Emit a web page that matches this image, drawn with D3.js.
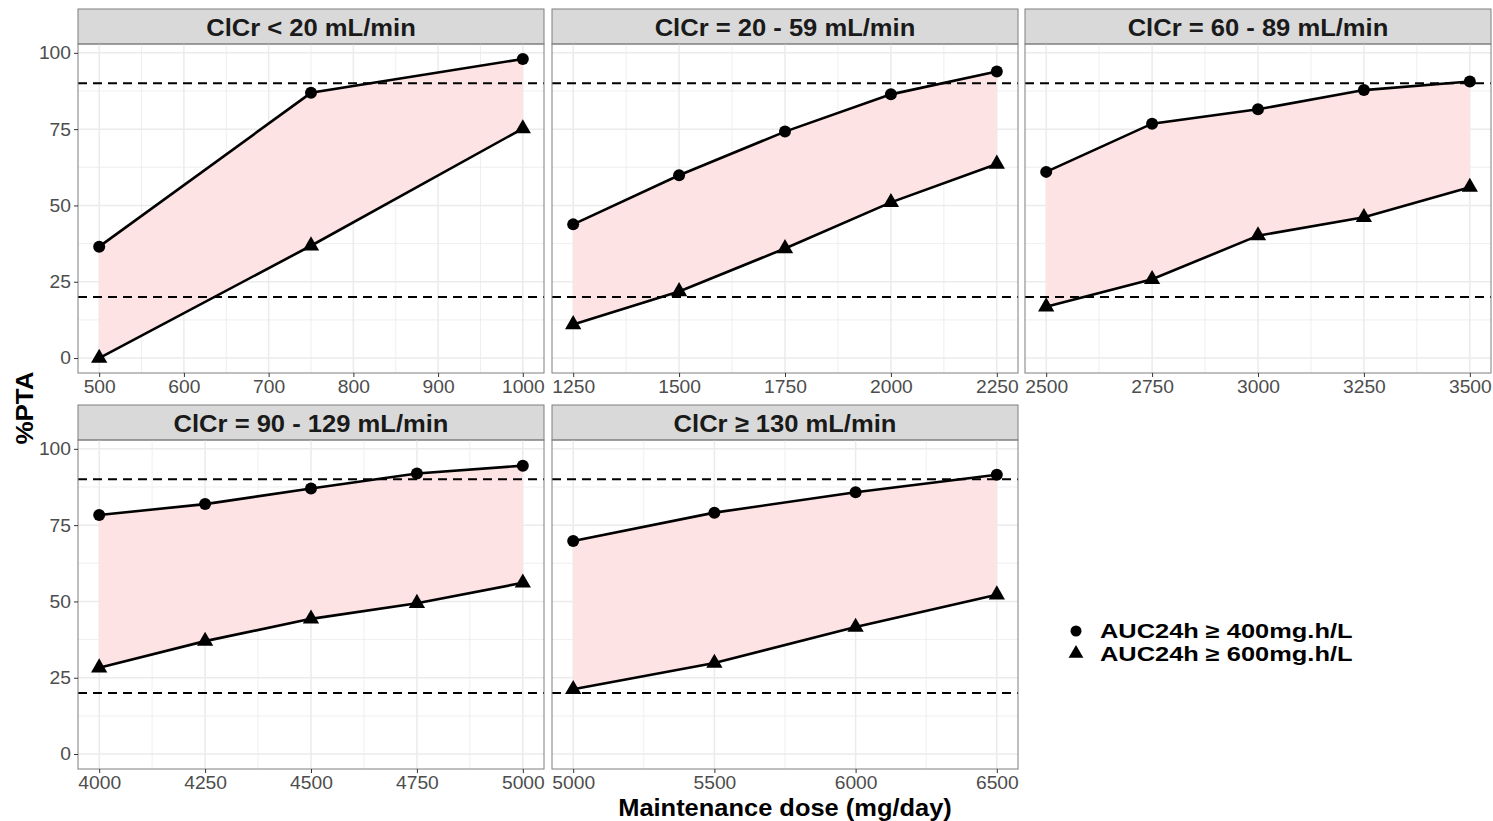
<!DOCTYPE html>
<html>
<head>
<meta charset="utf-8">
<script src="https://cdn.jsdelivr.net/npm/d3@7/dist/d3.min.js"></script>
<style>
  body { margin: 0; background: #fff; }
  svg { font-family: Arial, "Liberation Sans", Helvetica, sans-serif; }
</style>
</head>
<body>
<div id="chart"></div>
<script>
// panel data
const panelTitles = ["ClCr < 20 mL/min", "ClCr = 20 - 59 mL/min", "ClCr = 60 - 89 mL/min",
                     "ClCr = 90 - 129 mL/min", "ClCr \u2265 130 mL/min"];
const doses = [
  [500, 750, 1000],
  [1250, 1500, 1750, 2000, 2250],
  [2500, 2750, 3000, 3250, 3500],
  [4000, 4250, 4500, 4750, 5000],
  [5000, 5500, 6000, 6500]
];
const pta400 = [
  [36.5, 86.9, 98.0],
  [43.8, 59.9, 74.2, 86.4, 93.9],
  [61.0, 76.8, 81.5, 87.8, 90.6],
  [78.3, 81.9, 87.0, 91.9, 94.5],
  [69.8, 79.1, 85.8, 91.5]
];
const pta600 = [
  [0, 36.8, 75.2],
  [11.0, 21.8, 35.9, 51.0, 63.6],
  [16.8, 25.8, 40.1, 46.1, 56.0],
  [28.3, 37.0, 44.3, 49.4, 56.1],
  [21.2, 29.8, 41.6, 52.2]
];
const xTicks = [
  [500, 600, 700, 800, 900, 1000],
  [1250, 1500, 1750, 2000, 2250],
  [2500, 2750, 3000, 3250, 3500],
  [4000, 4250, 4500, 4750, 5000],
  [5000, 5500, 6000, 6500]
];
const yTicks = [0, 25, 50, 75, 100];
const yMinor = [12.5, 37.5, 62.5, 87.5];
const targets = [20, 90];
const legendLabels = ["AUC24h \u2265 400mg.h/L", "AUC24h \u2265 600mg.h/L"];

const W = 1493, H = 821;
const panelW = 466, stripH = 35, plotH = 329;
const colLeft = [78, 552, 1025];
const rowTop = [9, 405];

const svg = d3.select("#chart").append("svg")
  .attr("width", W).attr("height", H);

// the original text is a bit wider than the local fonts, so stretch it
function widen(sel, k) {
  sel.each(function () {
    const len = this.getComputedTextLength();
    d3.select(this).attr("textLength", len * k).attr("lengthAdjust", "spacingAndGlyphs");
  });
}

const triangle = d3.symbol().type(d3.symbolTriangle).size(115);

panelTitles.forEach((title, i) => {
  const col = i % 3, row = Math.floor(i / 3);
  const x0 = colLeft[col], top = rowTop[row];
  const py = top + stripH;

  const lo = d3.min(doses[i]), hi = d3.max(doses[i]);
  const pad = (hi - lo) * 0.05;
  const x = d3.scaleLinear().domain([lo - pad, hi + pad]).range([0, panelW]);
  const y = d3.scaleLinear().domain([-4.9, 102.9]).range([plotH, 0]);

  // strip
  svg.append("rect")
    .attr("x", x0).attr("y", top).attr("width", panelW).attr("height", stripH)
    .attr("fill", "#d9d9d9").attr("stroke", "#7f7f7f").attr("stroke-width", 1);
  svg.append("text")
    .attr("x", x0 + panelW / 2).attr("y", top + 26.5)
    .attr("text-anchor", "middle")
    .attr("font-size", "24px").attr("font-weight", "bold").attr("fill", "#1a1a1a")
    .text(title)
    .call(widen, 1.065);

  const g = svg.append("g").attr("transform", `translate(${x0},${py})`);

  // grid
  const xt = xTicks[i];
  const xMinor = d3.range(xt.length - 1).map(k => (xt[k] + xt[k + 1]) / 2);
  g.selectAll(".ymin").data(yMinor).join("line")
    .attr("x1", 0).attr("x2", panelW).attr("y1", d => y(d)).attr("y2", d => y(d))
    .attr("stroke", "#ebebeb").attr("stroke-width", 0.8);
  g.selectAll(".xmin").data(xMinor).join("line")
    .attr("y1", 0).attr("y2", plotH).attr("x1", d => x(d)).attr("x2", d => x(d))
    .attr("stroke", "#ebebeb").attr("stroke-width", 0.8);
  g.selectAll(".ymaj").data(yTicks).join("line")
    .attr("x1", 0).attr("x2", panelW).attr("y1", d => y(d)).attr("y2", d => y(d))
    .attr("stroke", "#ebebeb").attr("stroke-width", 1.5);
  g.selectAll(".xmaj").data(xt).join("line")
    .attr("y1", 0).attr("y2", plotH).attr("x1", d => x(d)).attr("x2", d => x(d))
    .attr("stroke", "#ebebeb").attr("stroke-width", 1.5);

  // ribbon
  const band = doses[i].map((d, k) => ({ dose: d, hi: pta400[i][k], lo: pta600[i][k] }));
  g.append("path").datum(band)
    .attr("d", d3.area().x(d => x(d.dose)).y0(d => y(d.lo)).y1(d => y(d.hi)))
    .attr("fill", "#fde3e4");

  // target lines
  g.selectAll(".target").data(targets).join("line")
    .attr("x1", 0).attr("x2", panelW).attr("y1", d => y(d)).attr("y2", d => y(d))
    .attr("stroke", "#000").attr("stroke-width", 2).attr("stroke-dasharray", "9,6");

  // lines
  const line = d3.line().x(d => x(d[0])).y(d => y(d[1]));
  [pta400[i], pta600[i]].forEach(vals => {
    g.append("path").datum(doses[i].map((d, k) => [d, vals[k]]))
      .attr("d", line).attr("fill", "none")
      .attr("stroke", "#000").attr("stroke-width", 2.6);
  });

  // points
  g.selectAll(".circ").data(doses[i]).join("circle")
    .attr("cx", d => x(d)).attr("cy", (d, k) => y(pta400[i][k])).attr("r", 6)
    .attr("fill", "#000");
  g.selectAll(".tri").data(doses[i]).join("path")
    .attr("d", triangle)
    .attr("transform", (d, k) => `translate(${x(d)},${y(pta600[i][k])})`)
    .attr("fill", "#000");

  // border
  g.append("rect").attr("width", panelW).attr("height", plotH)
    .attr("fill", "none").attr("stroke", "#7f7f7f").attr("stroke-width", 1);

  // x axis
  const xa = g.append("g").attr("transform", `translate(0,${plotH})`)
    .call(d3.axisBottom(x).tickValues(xt).tickSize(4).tickPadding(3).tickFormat(d3.format("d")));
  xa.select(".domain").remove();
  xa.selectAll("line").attr("stroke", "#333");
  xa.selectAll("text").attr("font-size", "18.5px").attr("fill", "#4d4d4d").call(widen, 1.04);

  // y axis on first column
  if (col === 0) {
    const ya = g.append("g")
      .call(d3.axisLeft(y).tickValues(yTicks).tickSize(4).tickPadding(3));
    ya.select(".domain").remove();
    ya.selectAll("line").attr("stroke", "#333");
    ya.selectAll("text").attr("font-size", "18.5px").attr("fill", "#4d4d4d").call(widen, 1.04);
  }
});

// axis titles
svg.append("text")
  .attr("x", 785).attr("y", 816)
  .attr("text-anchor", "middle")
  .attr("font-size", "24px").attr("font-weight", "bold").attr("fill", "#000")
  .text("Maintenance dose (mg/day)")
  .call(widen, 1.06);
svg.append("text")
  .attr("transform", "translate(33,408) rotate(-90)")
  .attr("text-anchor", "middle")
  .attr("font-size", "24.5px").attr("font-weight", "bold").attr("fill", "#000")
  .text("%PTA")
  .call(widen, 1.06);

// legend
const leg = svg.append("g").attr("transform", "translate(1076,631)");
leg.append("circle").attr("cx", 0).attr("cy", 0).attr("r", 5.5).attr("fill", "#000");
leg.append("path").attr("d", d3.symbol().type(d3.symbolTriangle).size(95))
  .attr("transform", "translate(0,22.5)").attr("fill", "#000");
legendLabels.forEach((t, k) => {
  leg.append("text")
    .attr("x", 24).attr("y", k * 23 + 7)
    .attr("font-size", "20px").attr("font-weight", "bold").attr("fill", "#000")
    .text(t)
    .call(widen, 1.27);
});
</script>
</body>
</html>
